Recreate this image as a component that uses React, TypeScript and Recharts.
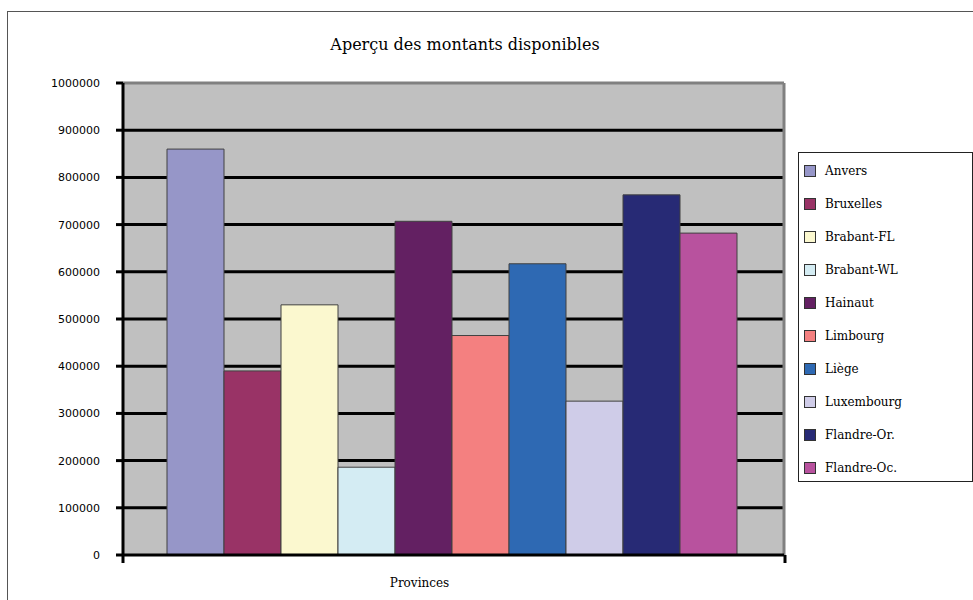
import React from 'react';
import * as Recharts from 'recharts';
import {
  BarChart,
  Bar,
  XAxis,
  YAxis,
  CartesianGrid,
  Legend,
  ReferenceLine,
} from 'recharts';

// Single category, one series per province
const categories = ['Provinces'];
const seriesNames = [
  'Anvers',
  'Bruxelles',
  'Brabant-FL',
  'Brabant-WL',
  'Hainaut',
  'Limbourg',
  'Liège',
  'Luxembourg',
  'Flandre-Or.',
  'Flandre-Oc.',
];
const seriesValues = [860000, 390000, 530000, 186000, 707000, 465000, 617000, 326000, 763000, 682000];
const seriesColors = [
  '#9696c8',
  '#993366',
  '#fbf8cf',
  '#d4ecf3',
  '#632062',
  '#f48080',
  '#2e69b3',
  '#cfcce8',
  '#272a75',
  '#b8529e',
];
const yTicks = [0, 100000, 200000, 300000, 400000, 500000, 600000, 700000, 800000, 900000, 1000000];
const gridValues = [100000, 200000, 300000, 400000, 500000, 600000, 700000, 800000, 900000];

const titleText = 'Aperçu des montants disponibles';
const axisTitle = 'Provinces';

const data = categories.map((c) => {
  const row: Record<string, string | number> = { category: c };
  seriesNames.forEach((_, i) => {
    row[`s${i}`] = seriesValues[i];
  });
  return row;
});

const SERIF = '"DejaVu Serif", serif';
const SANS = '"DejaVu Sans", sans-serif';

const usePlotAreaHook: any = (Recharts as any).usePlotArea;

// Plot frame on the right and the category-boundary tick marks under the x axis
const EdgeMarks = () => {
  const area = usePlotAreaHook ? usePlotAreaHook() : null;
  if (!area) return null;
  const left = area.x;
  const right = area.x + area.width;
  const bottom = area.y + area.height;
  return (
    <g>
      <line x1={right} y1={area.y} x2={right} y2={bottom} stroke="#808080" strokeWidth={3} />
      <line x1={left} y1={bottom} x2={left} y2={bottom + 8} stroke="#000" strokeWidth={3} />
      <line x1={right + 1} y1={bottom} x2={right + 1} y2={bottom + 8} stroke="#000" strokeWidth={3} />
    </g>
  );
};

const LegendBox = () => (
  <div
    style={{
      position: 'relative',
      width: 175,
      height: 330,
      boxSizing: 'border-box',
      border: '1px solid #222',
      background: '#fff',
    }}
  >
    {seriesNames.map((name, i) => (
      <div
        key={name}
        style={{
          position: 'absolute',
          left: 5,
          top: 18 + i * 33 - 8,
          height: 16,
          display: 'flex',
          alignItems: 'center',
        }}
      >
        <span
          style={{
            display: 'inline-block',
            width: 10,
            height: 10,
            background: seriesColors[i],
            border: '1px solid #333',
            marginRight: 9,
          }}
        />
        <span style={{ fontFamily: SERIF, fontSize: 12, color: '#000', lineHeight: '16px' }}>{name}</span>
      </div>
    ))}
  </div>
);

export default function App() {
  return (
    <div style={{ position: 'relative', width: 973, height: 600, overflow: 'hidden', background: '#fff' }}>
      <style>{'body{margin:0}'}</style>
      <div
        style={{
          position: 'absolute',
          left: 7,
          top: 11,
          width: 1000,
          height: 700,
          border: '1px solid #555',
        }}
      />
      <div
        style={{
          position: 'absolute',
          left: 215,
          top: 35,
          width: 500,
          textAlign: 'center',
          fontFamily: SERIF,
          fontSize: 16,
          lineHeight: '20px',
          color: '#000',
        }}
      >
        {titleText}
      </div>
      <div style={{ position: 'absolute', left: 0, top: 0 }}>
        <BarChart
          width={973}
          height={600}
          data={data}
          margin={{ top: 83, right: 189, bottom: 15, left: 43 }}
          barGap={0}
          barCategoryGap={44}
        >
          <CartesianGrid
            vertical={false}
            horizontalValues={gridValues}
            stroke="#000"
            strokeWidth={3}
            fill="#c0c0c0"
            fillOpacity={1}
          />
          <XAxis
            dataKey="category"
            height={30}
            tick={false}
            tickLine={false}
            axisLine={{ stroke: '#000', strokeWidth: 3 }}
            label={{
              value: axisTitle,
              position: 'center',
              dy: 13,
              dx: -34,
              style: { fontFamily: SERIF, fontSize: 12, fill: '#000' },
            }}
          />
          <YAxis
            width={80}
            domain={[0, 1000000]}
            ticks={yTicks}
            interval={0}
            tickSize={7}
            tickMargin={16}
            tickLine={{ stroke: '#000', strokeWidth: 3 }}
            axisLine={{ stroke: '#000', strokeWidth: 3 }}
            tick={{ fontFamily: SANS, fontSize: 11, fill: '#000' }}
          />
          {seriesNames.map((name, i) => (
            <Bar
              key={name}
              dataKey={`s${i}`}
              name={name}
              fill={seriesColors[i]}
              stroke="#404040"
              strokeWidth={1}
              isAnimationActive={false}
            />
          ))}
          <ReferenceLine y={1000000} stroke="#808080" strokeWidth={3} ifOverflow="visible" />
          <EdgeMarks />
          <Legend
            layout="vertical"
            align="center"
            verticalAlign="middle"
            wrapperStyle={{ left: 798, top: 152, width: 175, height: 330 }}
            content={() => <LegendBox />}
          />
        </BarChart>
      </div>
    </div>
  );
}
